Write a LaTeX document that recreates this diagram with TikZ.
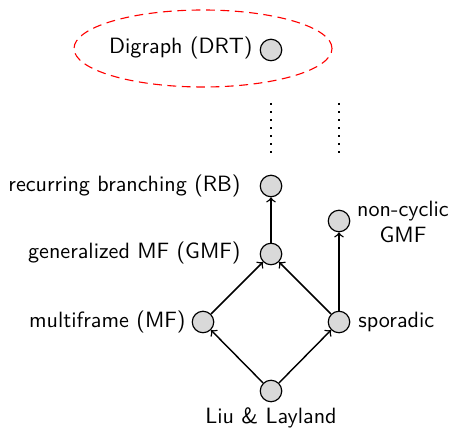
\documentclass[tikz,border=0pt]{standalone}
\usetikzlibrary{shapes.geometric}
\begin{document}
\begin{tikzpicture}[x=0.452pt,y=-0.452pt, font=\sffamily,
  vtx/.style={circle,draw,fill=gray!30,inner sep=0pt,minimum size=9.7pt,line width=0.55pt},
  edge/.style={->,line width=0.65pt},
  dotline/.style={line width=1pt,dash pattern=on 1pt off 2.62pt},
  lbl/.style={inner sep=0pt}]
\useasboundingbox (0,0) rectangle (455,429);
\node[ellipse,draw=red,dashed,dash pattern=on 4pt off 2.5pt,line width=0.5pt,
      minimum width=116.6pt,minimum height=34.8pt,inner sep=0pt] (grp) at (203,48.5) {};
\node[vtx] (drt) at (271,50) {};
\node[vtx] (rb) at (271,186) {};
\node[vtx] (gmf) at (271,254) {};
\node[vtx] (mf) at (203,322) {};
\node[vtx] (spo) at (339,322) {};
\node[vtx] (ll) at (271,391) {};
\node[vtx] (ncg) at (339,221) {};
\node[lbl,anchor=east] (drtl) at (253,48) {Digraph (DRT)};
\node[lbl,anchor=east] (rbl) at (241,186) {recurring branching (RB)};
\node[lbl,anchor=east] (gmfl) at (241,253) {generalized MF (GMF)};
\node[lbl,anchor=east] (mfl) at (186,322) {multiframe (MF)};
\node[lbl,anchor=west] (spol) at (358,322) {sporadic};
\node[lbl,align=center] (ncgl) at (403,222) {non-cyclic\\GMF};
\node[lbl] (lll) at (271,418) {Liu \& Layland};
\coordinate (d1a) at (271,103);
\coordinate (d1b) at (271,153);
\coordinate (d2a) at (339,103);
\coordinate (d2b) at (339,153);
\draw[dotline] (d1a) -- (d1b);
\draw[dotline] (d2a) -- (d2b);
\draw[edge] (gmf) -- (rb);
\draw[edge] (ll) -- (mf);
\draw[edge] (ll) -- (spo);
\draw[edge] (mf) -- (gmf);
\draw[edge] (spo) -- (gmf);
\draw[edge] (spo) -- (ncg);
\end{tikzpicture}
\end{document}
